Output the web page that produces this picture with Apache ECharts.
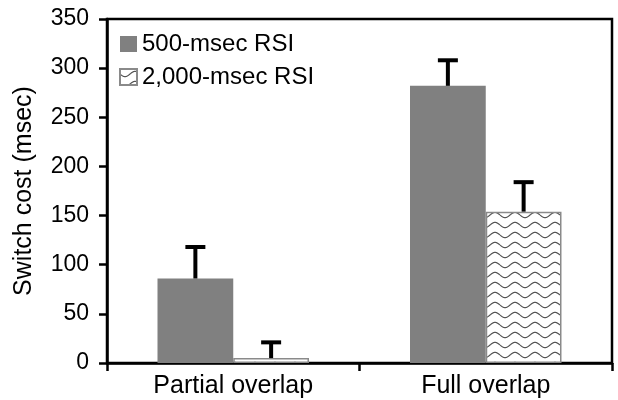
<!DOCTYPE html>
<html>
<head>
<meta charset="utf-8">
<script src="https://cdn.jsdelivr.net/npm/echarts@6/dist/echarts.min.js"></script>
<style>html,body{margin:0;padding:0;background:#fff;}#c{width:618px;height:400px;}</style>
</head>
<body>
<div id="c"></div>
<script>
var categories = ['Partial overlap', 'Full overlap'];
var seriesNames = ['500-msec RSI', '2,000-msec RSI'];
var rsi500 = [86, 282];
var rsi2000 = [5, 154];
var err500 = [32, 26];
var err2000 = [16, 30];
var yTicks = [0, 50, 100, 150, 200, 250, 300, 350];

var FONT = '"Liberation Sans", Arial, Helvetica, sans-serif';
var GAP = 0.4;

function makeWave() {
  var c = document.createElement('canvas');
  c.width = 20; c.height = 10;
  var g = c.getContext('2d');
  g.fillStyle = '#ffffff';
  g.fillRect(0, 0, 20, 10);
  g.strokeStyle = '#555555';
  g.lineWidth = 1.2;
  g.beginPath();
  for (var x = 0; x <= 20; x += 0.5) {
    var y = 5 + 2.6 * Math.sin(2 * Math.PI * x / 20);
    if (x === 0) g.moveTo(x, y); else g.lineTo(x, y);
  }
  g.stroke();
  return c;
}
var wave = makeWave();

function errSeries(vals, errs, side) {
  var data = vals.map(function (v, i) { return [i, v, errs[i]]; });
  return {
    type: 'custom',
    silent: true,
    z: 5,
    data: data,
    encode: { x: 0, y: 1 },
    renderItem: function (params, api) {
      var ci = api.value(0), v = api.value(1), e = api.value(2);
      var base = api.coord([ci, v]);
      var top = api.coord([ci, v + e]);
      var band = api.size([1, 0])[0];
      var bw = band * (1 - GAP) / 2;
      var x = base[0] + side * bw / 2;
      var cap = 10;
      return {
        type: 'group',
        children: [
          { type: 'line', shape: { x1: x, y1: base[1], x2: x, y2: top[1] }, style: { stroke: '#000', lineWidth: 4 } },
          { type: 'line', shape: { x1: x - cap, y1: top[1], x2: x + cap, y2: top[1] }, style: { stroke: '#000', lineWidth: 4 } }
        ]
      };
    }
  };
}

var chart = echarts.init(document.getElementById('c'), null, { renderer: 'canvas' });
chart.setOption({
  backgroundColor: '#ffffff',
  animation: false,
  textStyle: { fontFamily: FONT },
  grid: { left: 107, right: 6, top: 19, bottom: 37, show: true, borderColor: '#000', borderWidth: 2.5, backgroundColor: 'transparent' },
  legend: {
    orient: 'vertical',
    left: 114,
    top: 27,
    itemWidth: 17,
    itemHeight: 16,
    itemGap: 9,
    icon: 'rect',
    textStyle: { fontSize: 24, color: '#000', fontFamily: FONT },
    data: seriesNames
  },
  xAxis: {
    type: 'category',
    data: categories,
    axisLine: { lineStyle: { color: '#000', width: 2.5 } },
    axisTick: { show: true, length: 8, lineStyle: { color: '#000', width: 2.5 } },
    axisLabel: { fontSize: 25, color: '#000', margin: 11, fontFamily: FONT }
  },
  yAxis: {
    type: 'value',
    min: 0, max: 350, interval: 50,
    name: 'Switch cost (msec)',
    nameLocation: 'middle',
    nameGap: 70,
    nameTextStyle: { fontSize: 25, color: '#000', fontFamily: FONT },
    axisLine: { show: true, lineStyle: { color: '#000', width: 2.5 } },
    axisTick: { show: true, length: 8, lineStyle: { color: '#000', width: 2.5 } },
    splitLine: { show: false },
    axisLabel: {
      fontSize: 23, color: '#000', margin: 18, fontFamily: FONT,
      formatter: function (v) { return yTicks.indexOf(v) >= 0 ? String(v) : ''; }
    }
  },
  series: [
    {
      name: seriesNames[0], type: 'bar', data: rsi500, barGap: '0%', barCategoryGap: (GAP * 100) + '%',
      itemStyle: { color: '#808080' }
    },
    {
      name: seriesNames[1], type: 'bar', data: rsi2000, barGap: '0%', barCategoryGap: (GAP * 100) + '%',
      itemStyle: { color: { image: wave, repeat: 'repeat' }, borderColor: '#8a8a8a', borderWidth: 1.5 }
    },
    errSeries(rsi500, err500, -1),
    errSeries(rsi2000, err2000, 1)
  ]
});
</script>
</body>
</html>
